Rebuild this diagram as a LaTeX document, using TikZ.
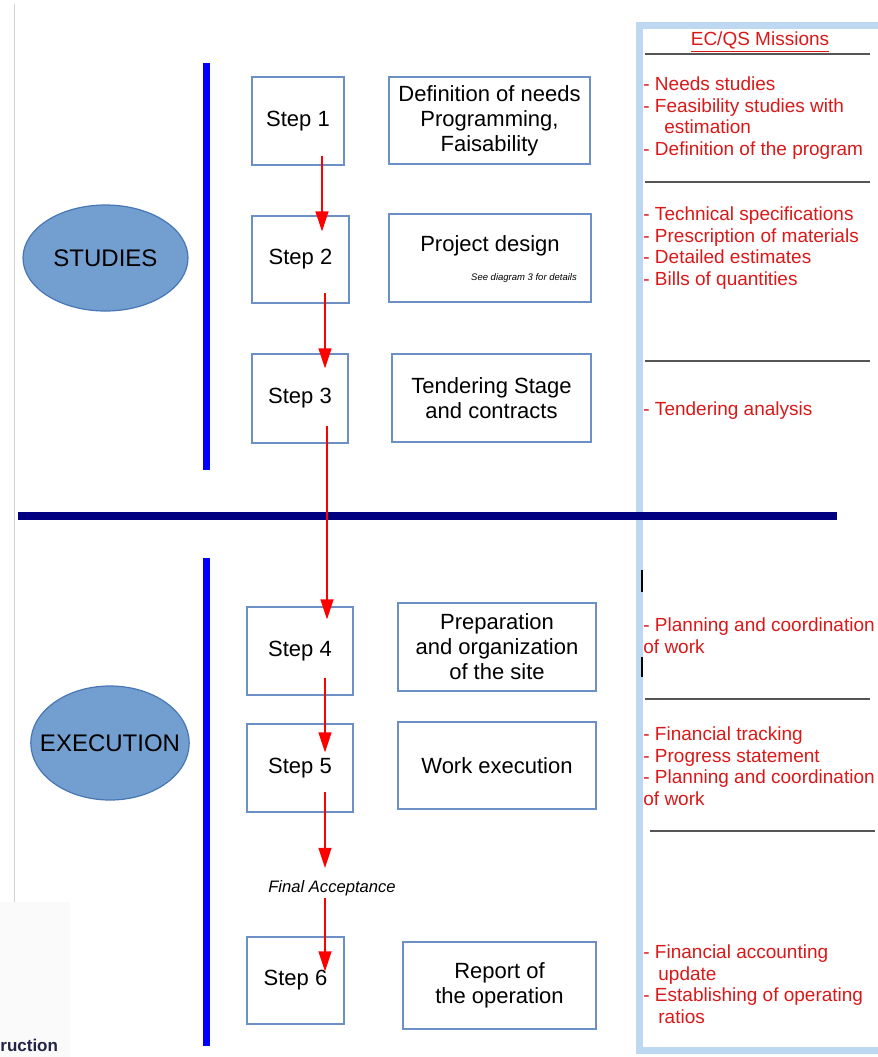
\documentclass[tikz,border=0pt]{standalone}
\usepackage{fontspec}
\setmainfont{Liberation Sans}
\usetikzlibrary{arrows.meta,shapes.geometric}
\definecolor{boxblue}{RGB}{108,144,198}
\definecolor{phasefill}{RGB}{114,159,207}
\definecolor{phasedraw}{RGB}{72,118,182}
\definecolor{framebl}{RGB}{190,216,241}
\definecolor{mission}{RGB}{218,24,24}
\definecolor{sepgray}{RGB}{85,85,85}
\definecolor{navyline}{RGB}{0,0,128}
\definecolor{logotext}{RGB}{35,35,72}

\begin{document}
\begin{tikzpicture}[x=0.5pt, y=-0.5pt,
  every node/.style={font=\fontsize{11}{12.5}\selectfont},
  box/.style={draw=boxblue, line width=0.7pt, inner sep=0pt, align=center},
  phase/.style={ellipse, draw=phasedraw, fill=phasefill, line width=0.6pt, inner sep=0pt, font=\fontsize{12}{14}\selectfont},
  flow/.style={-{Triangle[length=10pt,width=6.5pt]}, red, line width=0.7pt},
  task/.style={align=left, text=mission, inner sep=0pt, font=\fontsize{9.5}{10.8}\selectfont},
  sep/.style={sepgray, line width=0.8pt}]
  \useasboundingbox (0,0) rectangle (878,1057);
  \clip (0,0) rectangle (878,1057);

  \fill[gray!4] (0,902) rectangle (70,1057);
  \draw[gray!35, line width=0.5pt] (14,4) -- (14,902);
  \node[anchor=base west, inner sep=0pt, text=logotext, font=\fontsize{8.5}{10}\selectfont\bfseries] (ruc) at (0,1051) {ruction};

  \draw[framebl, line width=3.5pt] (639,25) rectangle (900,1050);
  \draw[blue, line width=3.5pt] (206,63) -- (206,470);
  \draw[blue, line width=3.5pt] (206,558) -- (206,1046);
  \draw[navyline, line width=4pt] (18,516) -- (837,516);

  \node[phase, minimum width=82.5pt, minimum height=53pt] (studies) at (105.5,258) {STUDIES};
  \node[phase, inner xsep=-7pt, minimum width=78pt, minimum height=57pt] (execution) at (110,743) {EXECUTION};

  \node[box, minimum width=46pt, minimum height=44pt] (s1) at (298,121) {Step 1};
  \node[box, minimum width=48.5pt, minimum height=43.5pt] (s2) at (300.5,259.5) {Step 2};
  \node[box, minimum width=48pt, minimum height=44.5pt] (s3) at (300,398.5) {Step 3};
  \node[box, minimum width=53pt, minimum height=44pt] (s4) at (300,651) {Step 4};
  \node[box, minimum width=53pt, minimum height=44pt] (s5) at (300,768) {Step 5};
  \node[box, minimum width=48.5pt, minimum height=43.5pt] (s6) at (295.5,980.5) {Step 6};

  \node[box, minimum width=100.5pt, minimum height=43.5pt] (d1) at (489.5,120.5) {Definition of needs\\Programming,\\Faisability};
  \node[box, minimum width=101pt, minimum height=44pt] (d2) at (490,258) {};
  \node[inner sep=0pt] (d2t) at (490,246) {Project design};
  \node[inner sep=0pt, font=\fontsize{4.75}{5}\selectfont\itshape] (d2n) at (524,278) {See diagram 3 for details};
  \node[box, minimum width=99.5pt, minimum height=44pt] (d3) at (491.5,398) {Tendering Stage\\and contracts};
  \node[box, minimum width=99pt, minimum height=44pt] (d4) at (497,647) {Preparation\\and organization\\of the site};
  \node[box, minimum width=99pt, minimum height=43.5pt] (d5) at (497,765.5) {Work execution};
  \node[box, minimum width=96.5pt, minimum height=43.5pt] (d6) at (499.5,985.5) {Report of\\the operation};

  \node[inner sep=1pt, font=\fontsize{8.3}{10}\selectfont\itshape] (fa) at (332,888) {Final Acceptance};

  \node[anchor=base, inner sep=0pt, text=mission, font=\fontsize{9.5}{10.8}\selectfont] (head) at (760,45) {\underline{EC/QS Missions}};
  \draw[sep] (645,54) -- (870,54);
  \node[task, anchor=north west] (m1) at (643,76.4) {- Needs studies\\- Feasibility studies with\\\hspace*{10.5pt}estimation\\- Definition of the program};
  \draw[sep] (645,182) -- (870,182);
  \node[task, anchor=north west] (m2) at (643,206.4) {- Technical specifications\\- Prescription of materials\\- Detailed estimates\\- Bills of quantities};
  \draw[sep] (645,361) -- (870,361);
  \node[task, anchor=base west] (m3) at (643,415) {- Tendering analysis};
  \draw[black, line width=0.6pt] (642,570) -- (642,592);
  \node[task, anchor=north west] (m4) at (643,617.4) {- Planning and coordination\\of work};
  \draw[black, line width=0.6pt] (642,657) -- (642,677);
  \draw[sep] (645,699) -- (870,699);
  \node[task, anchor=north west] (m5) at (643,726.4) {- Financial tracking\\- Progress statement\\- Planning and coordination\\of work};
  \draw[sep] (650,831) -- (875,831);
  \node[task, anchor=north west] (m6) at (643,944.4) {- Financial accounting\\\hspace*{7.5pt}update\\- Establishing of operating\\\hspace*{7.5pt}ratios};

  \draw[flow] ([xshift=12pt,yshift=5pt]s1.south) -- ([xshift=10.75pt,yshift=-8pt]s2.north);
  \draw[flow] ([xshift=12.25pt,yshift=5.5pt]s2.south) -- ([xshift=12.5pt,yshift=-7.5pt]s3.north);
  \draw[flow] ([xshift=13.5pt,yshift=9pt]s3.south) -- ([xshift=13.5pt,yshift=-6.5pt]s4.north);
  \draw[flow] ([xshift=12.5pt,yshift=9pt]s4.south) -- ([xshift=12.5pt,yshift=-14.5pt]s5.north);
  \draw[flow] ([xshift=12.5pt,yshift=10.5pt]s5.south) -- ([xshift=-3.5pt,yshift=5pt]fa.north);
  \draw[flow] ([xshift=-3.5pt]fa.south) -- ([xshift=14.75pt,yshift=-17.5pt]s6.north);
\end{tikzpicture}
\end{document}
